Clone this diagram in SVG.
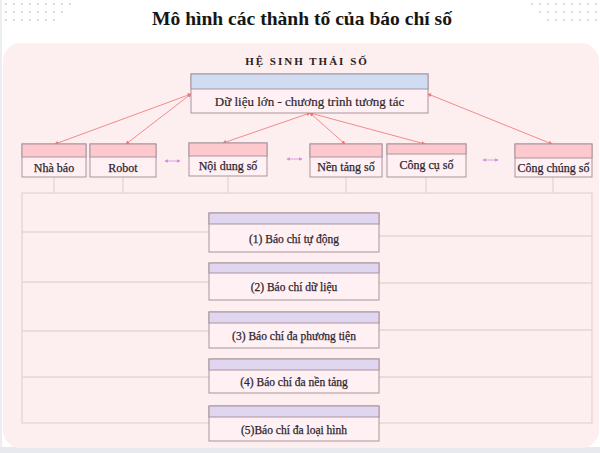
<svg xmlns="http://www.w3.org/2000/svg" width="600" height="453" viewBox="0 0 600 453">
<defs>
<style>
.title{font-family:"Liberation Serif",serif;font-weight:bold;font-size:19.5px;fill:#161616;text-anchor:middle}
.eco{font-family:"Liberation Serif",serif;font-weight:bold;font-size:11px;letter-spacing:2px;fill:#2a2020;text-anchor:middle}
.lbl{font-family:"Liberation Serif",serif;font-size:12px;fill:#2e2430;stroke:#2e2430;stroke-width:0.25;text-anchor:middle}
.big{font-family:"Liberation Serif",serif;font-size:13px;fill:#2e2430;stroke:#2e2430;stroke-width:0.2;text-anchor:middle}
.blbl{font-family:"Liberation Serif",serif;font-size:11.5px;fill:#2e2430;stroke:#2e2430;stroke-width:0.25;text-anchor:middle}
.bx{stroke:#a8939b;stroke-width:1}
.body{fill:#fff1f3}
.hp{fill:#fdc9cf}
.hb{fill:#cfdcf2}
.hv{fill:#e0d6f0}
.grey{stroke:#e6d4d8;stroke-width:1.3;fill:none}
.red{stroke:#f27070;stroke-width:0.8;fill:none;marker-start:url(#ar);marker-end:url(#ar)}
.vio{stroke:#d58ce0;stroke-width:0.8;fill:none;marker-start:url(#av);marker-end:url(#av)}
.dot{fill:#d2d2d6}
</style>
<marker id="ar" viewBox="0 0 6 6" refX="5" refY="3" markerWidth="4" markerHeight="4" orient="auto-start-reverse" markerUnits="userSpaceOnUse"><path d="M0,0 L6,3 L0,6 z" fill="#f27070"/></marker>
<marker id="av" viewBox="0 0 6 6" refX="5" refY="3" markerWidth="3.5" markerHeight="3.5" orient="auto-start-reverse" markerUnits="userSpaceOnUse"><path d="M0,0 L6,3 L0,6 z" fill="#d58ce0"/></marker>
</defs>
<rect width="600" height="453" fill="#ffffff"/>
<rect x="0" y="0" width="2" height="453" fill="#eceef2"/>
<rect x="0" y="447" width="600" height="6" fill="#e8e9ef"/>
<g id="dots-left">
<circle class="dot" cx="6" cy="4" r="1.1"/><circle class="dot" cx="14" cy="4" r="1.1"/><circle class="dot" cx="22" cy="4" r="1.1"/><circle class="dot" cx="30" cy="4" r="1.1"/><circle class="dot" cx="38" cy="4" r="1.1"/><circle class="dot" cx="46" cy="4" r="1.1"/><circle class="dot" cx="54" cy="4" r="1.1"/><circle class="dot" cx="62" cy="4" r="1.1"/><circle class="dot" cx="70" cy="4" r="1.1"/>
<circle class="dot" cx="6" cy="12" r="1.1"/><circle class="dot" cx="14" cy="12" r="1.1"/><circle class="dot" cx="22" cy="12" r="1.1"/><circle class="dot" cx="30" cy="12" r="1.1"/><circle class="dot" cx="38" cy="12" r="1.1"/><circle class="dot" cx="46" cy="12" r="1.1"/><circle class="dot" cx="54" cy="12" r="1.1"/><circle class="dot" cx="62" cy="12" r="1.1"/>
<circle class="dot" cx="6" cy="20" r="1.1"/><circle class="dot" cx="14" cy="20" r="1.1"/><circle class="dot" cx="22" cy="20" r="1.1"/><circle class="dot" cx="30" cy="20" r="1.1"/><circle class="dot" cx="38" cy="20" r="1.1"/><circle class="dot" cx="46" cy="20" r="1.1"/><circle class="dot" cx="54" cy="20" r="1.1"/>
</g>
<g id="dots-right">
<circle class="dot" cx="532" cy="4" r="1.1"/><circle class="dot" cx="540" cy="4" r="1.1"/><circle class="dot" cx="548" cy="4" r="1.1"/><circle class="dot" cx="556" cy="4" r="1.1"/><circle class="dot" cx="564" cy="4" r="1.1"/><circle class="dot" cx="572" cy="4" r="1.1"/><circle class="dot" cx="580" cy="4" r="1.1"/><circle class="dot" cx="588" cy="4" r="1.1"/><circle class="dot" cx="596" cy="4" r="1.1"/>
<circle class="dot" cx="540" cy="12" r="1.1"/><circle class="dot" cx="548" cy="12" r="1.1"/><circle class="dot" cx="556" cy="12" r="1.1"/><circle class="dot" cx="564" cy="12" r="1.1"/><circle class="dot" cx="572" cy="12" r="1.1"/><circle class="dot" cx="580" cy="12" r="1.1"/><circle class="dot" cx="588" cy="12" r="1.1"/><circle class="dot" cx="596" cy="12" r="1.1"/>
<circle class="dot" cx="548" cy="20" r="1.1"/><circle class="dot" cx="556" cy="20" r="1.1"/><circle class="dot" cx="564" cy="20" r="1.1"/><circle class="dot" cx="572" cy="20" r="1.1"/><circle class="dot" cx="580" cy="20" r="1.1"/><circle class="dot" cx="588" cy="20" r="1.1"/><circle class="dot" cx="596" cy="20" r="1.1"/>
</g>
<text class="title" x="302" y="25" textLength="300" lengthAdjust="spacingAndGlyphs">Mô hình các thành tố của báo chí số</text>
<rect id="panel" x="3" y="43" width="596" height="405" rx="18" fill="#fdeef0"/>
<text class="eco" x="307" y="65">HỆ SINH THÁI SỐ</text>
<g id="connectors">
<path class="grey" d="M54,177V193M123,177V193M228,177V193M346,177V193M426,177V193M553,177V193"/>
<rect class="grey" x="22" y="193" width="570" height="230"/>
<path class="grey" d="M22,232H209M379,236H592M22,282H209M379,283H592M22,331H209M379,330H592M22,377H209M379,377H592"/>
<line class="red" x1="191" y1="94" x2="55" y2="144"/>
<line class="red" x1="191" y1="94" x2="126" y2="144"/>
<line class="red" x1="310" y1="113" x2="223" y2="143"/>
<line class="red" x1="310" y1="113" x2="345" y2="144"/>
<line class="red" x1="310" y1="113" x2="425" y2="144"/>
<line class="red" x1="428" y1="94" x2="552" y2="144"/>
<line class="vio" x1="165" y1="161" x2="180" y2="161"/>
<line class="vio" x1="287" y1="159" x2="302" y2="159"/>
<line class="vio" x1="483" y1="160" x2="498" y2="160"/>
</g>
<g id="node-dulieu">
<rect class="bx body" x="191" y="74" width="237" height="39"/>
<rect class="bx hb" x="191" y="74" width="237" height="15"/>
<text class="big" x="309.5" y="106">Dữ liệu lớn - chương trình tương tác</text>
</g>
<g id="node-nhabao">
<rect class="bx body" x="22" y="144" width="64" height="33"/>
<rect class="bx hp" x="22" y="144" width="64" height="13"/>
<text class="lbl" x="54" y="172">Nhà báo</text>
</g>
<g id="node-robot">
<rect class="bx body" x="90" y="144" width="66" height="33"/>
<rect class="bx hp" x="90" y="144" width="66" height="13"/>
<text class="lbl" x="123" y="172">Robot</text>
</g>
<g id="node-noidung">
<rect class="bx body" x="189" y="143" width="78" height="33"/>
<rect class="bx hp" x="189" y="143" width="78" height="13"/>
<text class="lbl" x="228" y="170">Nội dung số</text>
</g>
<g id="node-nentang">
<rect class="bx body" x="310" y="144" width="72" height="33"/>
<rect class="bx hp" x="310" y="144" width="72" height="13"/>
<text class="lbl" x="346" y="171">Nền tảng số</text>
</g>
<g id="node-congcu">
<rect class="bx body" x="387" y="144" width="79" height="33"/>
<rect class="bx hp" x="387" y="144" width="79" height="10"/>
<text class="lbl" x="426.5" y="169">Công cụ số</text>
</g>
<g id="node-congchung">
<rect class="bx body" x="515" y="144" width="77" height="33"/>
<rect class="bx hp" x="515" y="144" width="77" height="14"/>
<text class="lbl" x="553.5" y="172">Công chúng số</text>
</g>
<g id="node-b1">
<rect class="bx body" x="209" y="213" width="170" height="39"/>
<rect class="bx hv" x="209" y="213" width="170" height="11"/>
<text class="blbl" x="294" y="243">(1) Báo chí tự động</text>
</g>
<g id="node-b2">
<rect class="bx body" x="209" y="263" width="170" height="37"/>
<rect class="bx hv" x="209" y="263" width="170" height="10"/>
<text class="blbl" x="294" y="291">(2) Báo chí dữ liệu</text>
</g>
<g id="node-b3">
<rect class="bx body" x="209" y="312" width="170" height="36"/>
<rect class="bx hv" x="209" y="312" width="170" height="11"/>
<text class="blbl" x="294" y="340">(3) Báo chí đa phương tiện</text>
</g>
<g id="node-b4">
<rect class="bx body" x="209" y="359" width="170" height="34"/>
<rect class="bx hv" x="209" y="359" width="170" height="11"/>
<text class="blbl" x="294" y="386">(4) Báo chí đa nền tảng</text>
</g>
<g id="node-b5">
<rect class="bx body" x="209" y="406" width="170" height="35"/>
<rect class="bx hv" x="209" y="406" width="170" height="11"/>
<text class="blbl" x="294" y="434">(5)Báo chí đa loại hình</text>
</g>
</svg>
